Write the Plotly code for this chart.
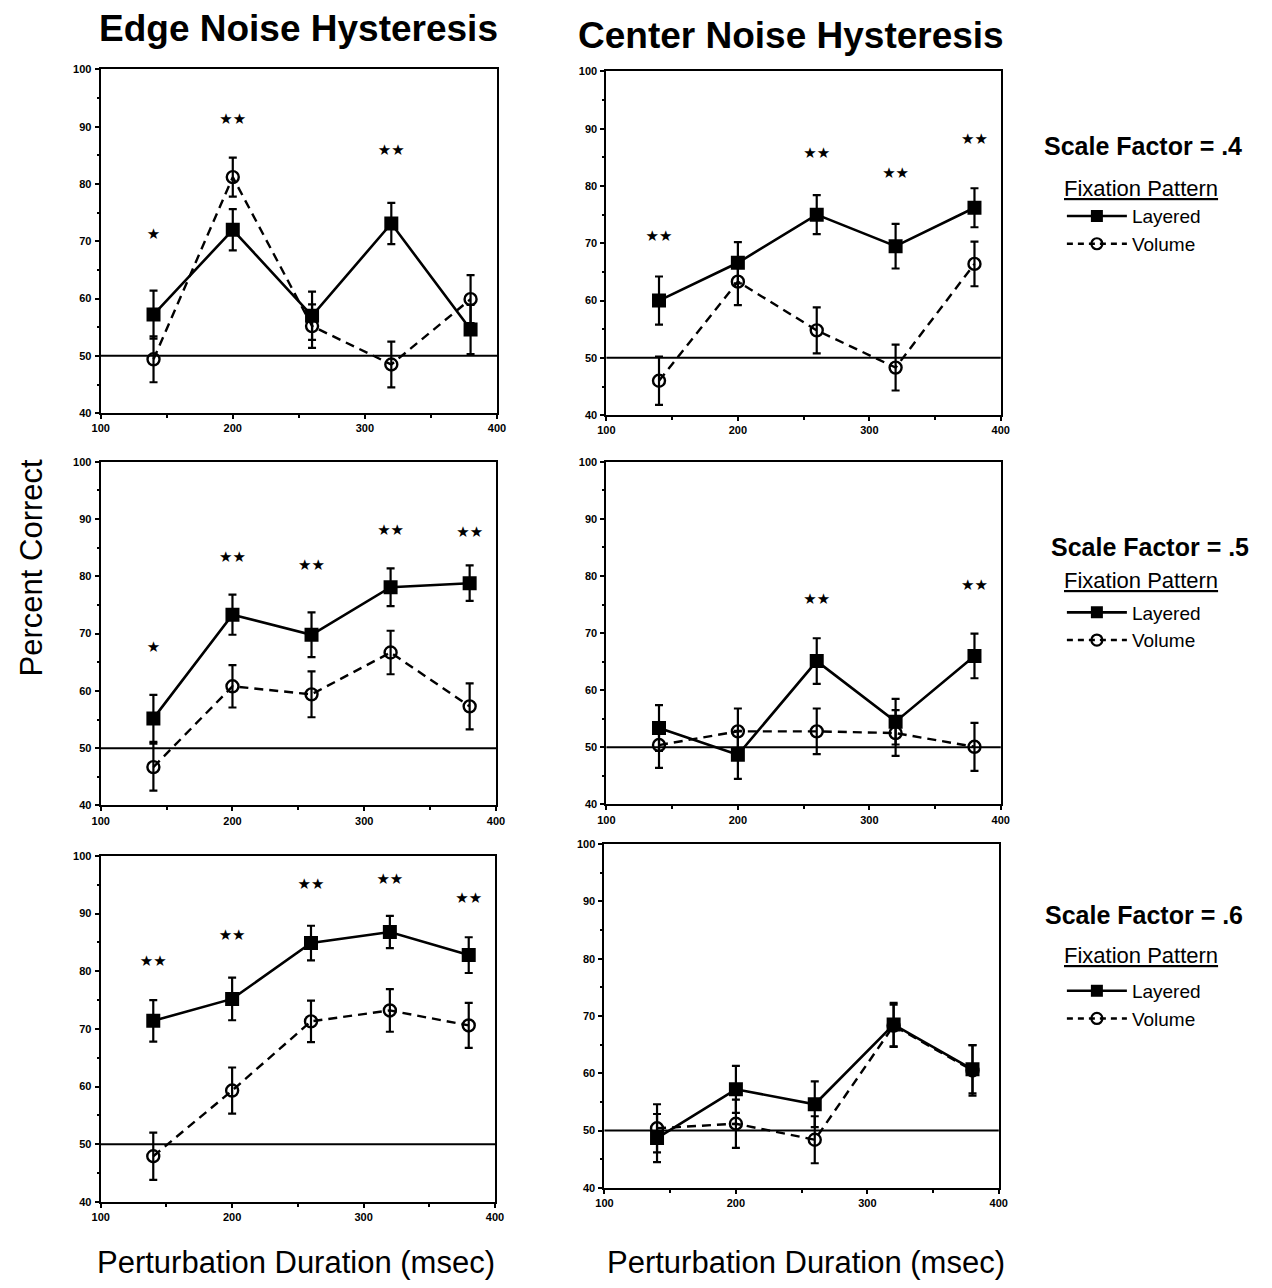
import plotly.graph_objects as go

# ---------------- data ----------------
durations = [140, 200, 260, 320, 380]
chance_level = 50

edge_04_layered = [57.2, 72.0, 57.0, 73.1, 54.6]
edge_04_layered_err = [4.2, 3.6, 4.2, 3.6, 4.3]
edge_04_volume = [49.4, 81.2, 55.2, 48.5, 59.9]
edge_04_volume_err = [4.0, 3.4, 3.8, 4.0, 4.2]
edge_04_sig = ["★", "★★", "", "★★", ""]
edge_04_sig_y = [71.0, 91.2, None, 85.7, None]

center_04_layered = [60.0, 66.6, 75.0, 69.5, 76.2]
center_04_layered_err = [4.2, 3.6, 3.4, 3.9, 3.4]
center_04_volume = [46.0, 63.3, 54.8, 48.3, 66.4]
center_04_volume_err = [4.2, 4.1, 4.0, 4.0, 3.9]
center_04_sig = ["★★", "", "★★", "★★", "★★"]
center_04_sig_y = [71.1, None, 85.6, 82.0, 87.9]

edge_05_layered = [55.2, 73.3, 69.8, 78.1, 78.8]
edge_05_layered_err = [4.1, 3.5, 3.9, 3.3, 3.1]
edge_05_volume = [46.7, 60.8, 59.4, 66.7, 57.3]
edge_05_volume_err = [4.1, 3.7, 4.0, 3.8, 4.0]
edge_05_sig = ["★", "★★", "★★", "★★", "★★"]
edge_05_sig_y = [67.5, 83.2, 81.8, 87.9, 87.5]

center_05_layered = [53.4, 48.7, 65.1, 54.5, 66.0]
center_05_layered_err = [4.0, 4.2, 4.0, 4.0, 3.9]
center_05_volume = [50.4, 52.8, 52.8, 52.5, 50.1]
center_05_volume_err = [4.0, 4.0, 4.0, 4.0, 4.2]
center_05_sig = ["", "", "★★", "", "★★"]
center_05_sig_y = [None, None, 75.7, None, 78.2]

edge_06_layered = [71.4, 75.2, 84.9, 86.8, 82.8]
edge_06_layered_err = [3.6, 3.7, 3.0, 2.8, 3.1]
edge_06_volume = [47.9, 59.3, 71.3, 73.2, 70.6]
edge_06_volume_err = [4.1, 4.0, 3.6, 3.7, 3.9]
edge_06_sig = ["★★", "★★", "★★", "★★", "★★"]
edge_06_sig_y = [81.5, 86.1, 95.0, 95.8, 92.5]

center_06_layered = [48.7, 57.2, 54.6, 68.5, 60.7]
center_06_layered_err = [4.2, 4.1, 4.0, 3.8, 4.2]
center_06_volume = [50.4, 51.2, 48.4, 68.3, 60.5]
center_06_volume_err = [4.2, 4.2, 4.1, 3.7, 4.4]
center_06_sig = ["", "", "", "", ""]
center_06_sig_y = [None, None, None, None, None]

column_titles = ["Edge Noise Hysteresis", "Center Noise Hysteresis"]
scale_factors = [".4", ".5", ".6"]
series_names = ["Layered", "Volume"]
y_ticks = [40, 50, 60, 70, 80, 90, 100]
x_ticks = [100, 200, 300, 400]

panels = [
    (edge_04_layered, edge_04_layered_err, edge_04_volume, edge_04_volume_err, edge_04_sig, edge_04_sig_y),
    (center_04_layered, center_04_layered_err, center_04_volume, center_04_volume_err, center_04_sig, center_04_sig_y),
    (edge_05_layered, edge_05_layered_err, edge_05_volume, edge_05_volume_err, edge_05_sig, edge_05_sig_y),
    (center_05_layered, center_05_layered_err, center_05_volume, center_05_volume_err, center_05_sig, center_05_sig_y),
    (edge_06_layered, edge_06_layered_err, edge_06_volume, edge_06_volume_err, edge_06_sig, edge_06_sig_y),
    (center_06_layered, center_06_layered_err, center_06_volume, center_06_volume_err, center_06_sig, center_06_sig_y),
]

# ---------------- layout geometry (pixels in a 1272x1288 page) ----------------
W, H = 1272, 1288
def px_x(p): return p / W
def px_y(p): return 1 - p / H

x_domains = [(93, 495), (606, 1006), (93, 494), (606, 1006), (93, 493), (604, 1004)]
y_domains = [(64, 411), (66, 413), (460, 807), (460, 806), (858, 1207), (846, 1193)]

FONT = "Liberation Sans, Arial, Helvetica, sans-serif"
DASH = "9px,6px"
fig = go.Figure()

for i, (lay, lay_e, vol, vol_e, sig, sig_y) in enumerate(panels):
    n = i + 1
    xa = "x" if n == 1 else f"x{n}"
    ya = "y" if n == 1 else f"y{n}"
    fig.add_trace(go.Scatter(
        x=durations, y=vol, xaxis=xa, yaxis=ya, mode="lines+markers", showlegend=False,
        line=dict(color="black", width=2.4, dash=DASH),
        marker=dict(symbol="circle-open", size=12, color="black", line=dict(width=2.4)),
        error_y=dict(type="data", array=vol_e, color="black", thickness=2.2, width=4),
        name=series_names[1]))
    fig.add_trace(go.Scatter(
        x=durations, y=lay, xaxis=xa, yaxis=ya, mode="lines+markers", showlegend=False,
        line=dict(color="black", width=2.6),
        marker=dict(symbol="square", size=14, color="black"),
        error_y=dict(type="data", array=lay_e, color="black", thickness=2.2, width=4),
        name=series_names[0]))
    fig.add_trace(go.Scatter(
        x=durations, y=sig_y, xaxis=xa, yaxis=ya, mode="text", text=sig, showlegend=False,
        textfont=dict(size=15, color="black", family="DejaVu Sans"), hoverinfo="skip"))
    fig.add_shape(type="line", xref=f"{xa} domain", yref=ya, x0=0, x1=1,
                  y0=chance_level, y1=chance_level, line=dict(color="black", width=2))

    axis_common = dict(showline=True, linecolor="black", linewidth=2, mirror=True,
                       showgrid=False, zeroline=False, ticks="outside", ticklen=4,
                       tickwidth=2, tickcolor="black",
                       tickfont=dict(family=FONT, size=11, color="black", weight="bold"))
    xd = x_domains[i]
    yd = y_domains[i]
    fig.update_layout({
        ("xaxis" if n == 1 else f"xaxis{n}"): dict(
            domain=[px_x(xd[0]), px_x(xd[1])], range=[100, 400], tickvals=x_ticks,
            anchor=ya, minor=dict(dtick=50, ticks="outside", ticklen=3, tickwidth=2, tickcolor="black"),
            ticklabelstandoff=0, **axis_common),
        ("yaxis" if n == 1 else f"yaxis{n}"): dict(
            domain=[px_y(yd[1]), px_y(yd[0])], range=[40, 100], tickvals=y_ticks,
            anchor=xa, minor=dict(dtick=5, ticks="outside", ticklen=2, tickwidth=2, tickcolor="black"),
            ticklabelstandoff=1, **axis_common),
    })

# legends, one per row
legend_tops = [193, 593, 975]
for r in range(3):
    lname = "legend" if r == 0 else f"legend{r + 1}"
    n = 2 * r + 2
    xa, ya = f"x{n}", f"y{n}"
    fig.add_trace(go.Scatter(
        x=[None], y=[None], xaxis=xa, yaxis=ya, mode="lines+markers", name=series_names[0],
        legend=lname, line=dict(color="black", width=2.6),
        marker=dict(symbol="square", size=12, color="black")))
    fig.add_trace(go.Scatter(
        x=[None], y=[None], xaxis=xa, yaxis=ya, mode="lines+markers", name=series_names[1],
        legend=lname, line=dict(color="black", width=2.4, dash="6px,5px"),
        marker=dict(symbol="circle-open", size=11, color="black", line=dict(width=2.2))))
    fig.update_layout({lname: dict(
        x=px_x(1068), y=px_y(legend_tops[r]), xanchor="left", yanchor="top",
        bgcolor="rgba(0,0,0,0)", borderwidth=0, itemwidth=60, traceorder="normal",
        tracegroupgap=0, font=dict(family=FONT, size=19, color="black"))})

annotations = []
col_centers = [294, 793]
col_title_y = [23, 30]
col_title_size = [37, 37]
for c in range(2):
    annotations.append(dict(text=f"<b>{column_titles[c]}</b>", x=px_x(col_centers[c]), y=px_y(col_title_y[c]),
                            xref="paper", yref="paper", showarrow=False, xanchor="center", yanchor="middle",
                            font=dict(family=FONT, size=col_title_size[c], color="black")))
    annotations.append(dict(text="Perturbation Duration (msec)", x=px_x([291, 808][c]), y=px_y(1268),
                            xref="paper", yref="paper", showarrow=False, xanchor="center", yanchor="middle",
                            font=dict(family=FONT, size=31, color="black")))
annotations.append(dict(text="Percent Correct", x=px_x(23), y=px_y(567), xref="paper", yref="paper",
                        showarrow=False, textangle=-90, xanchor="center", yanchor="middle",
                        font=dict(family=FONT, size=31, color="black")))
sf_y = [141, 546, 918]
sf_x = [1150, 1157, 1151]
fp_y = [184, 580, 958]
for r in range(3):
    annotations.append(dict(text=f"<b>Scale Factor = {scale_factors[r]}</b>", x=px_x(sf_x[r]), y=px_y(sf_y[r]),
                            xref="paper", yref="paper", showarrow=False, xanchor="center", yanchor="middle",
                            font=dict(family=FONT, size=25, color="black")))
    annotations.append(dict(text="<u>Fixation Pattern</u>", x=px_x(1148), y=px_y(fp_y[r]),
                            xref="paper", yref="paper", showarrow=False, xanchor="center", yanchor="middle",
                            font=dict(family=FONT, size=22, color="black")))

fig.update_layout(width=W, height=H, margin=dict(l=0, r=0, t=0, b=0, pad=0),
                  paper_bgcolor="white", plot_bgcolor="white", annotations=annotations,
                  font=dict(family=FONT, color="black"))

fig.write_html("out.html")
